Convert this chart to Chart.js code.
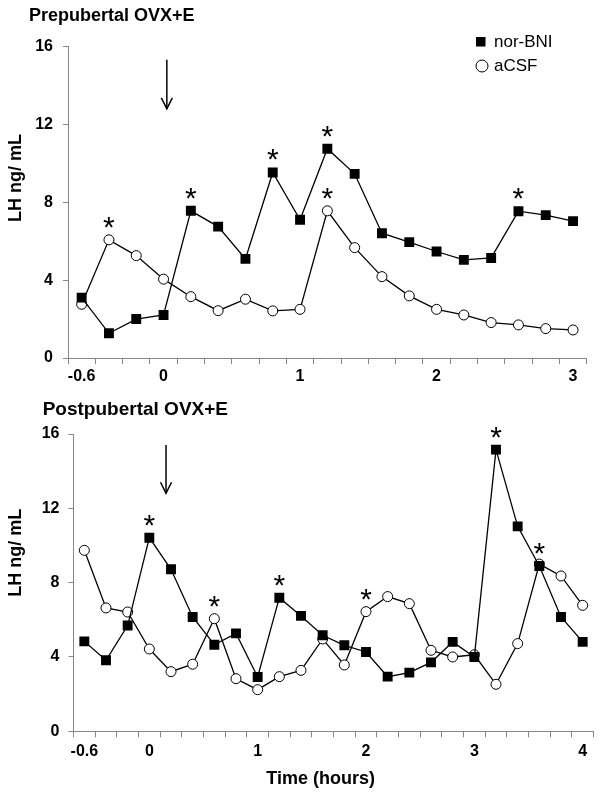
<!DOCTYPE html>
<html><head><meta charset="utf-8">
<script src="https://cdn.jsdelivr.net/npm/chart.js@4.4.0/dist/chart.umd.min.js"></script>
<style>
html,body{margin:0;padding:0;background:#fff;width:602px;height:798px;overflow:hidden}
canvas{position:absolute;left:0}
#c1{top:0}
#c2{top:390px}
</style></head><body>
<canvas id="c1" width="602" height="390"></canvas>
<canvas id="c2" width="602" height="408"></canvas>
<script>
// ---- data ----
const topTimes = [-0.6, -0.4, -0.2, 0, 0.2, 0.4, 0.6, 0.8, 1.0, 1.2, 1.4, 1.6, 1.8, 2.0, 2.2, 2.4, 2.6, 2.8, 3.0];
const topNorBNI = [3.1, 1.27, 2.0, 2.21, 7.56, 6.75, 5.09, 9.53, 7.1, 10.75, 9.46, 6.41, 5.95, 5.47, 5.04, 5.14, 7.54, 7.34, 7.03];
const topACSF   = [2.76, 6.07, 5.26, 4.05, 3.15, 2.43, 3.02, 2.42, 2.5, 7.56, 5.67, 4.18, 3.19, 2.5, 2.21, 1.82, 1.70, 1.51, 1.44];
const topTickLabels = ['-0.6', '0', '1', '2', '3'];
const topStarsNorBNI = [4, 7, 9, 16];
const topStarsACSF = [1, 9];

const botTimes = [-0.6, -0.4, -0.2, 0, 0.2, 0.4, 0.6, 0.8, 1.0, 1.2, 1.4, 1.6, 1.8, 2.0, 2.2, 2.4, 2.6, 2.8, 3.0, 3.2, 3.4, 3.6, 3.8, 4.0];
const botNorBNI = [4.84, 3.82, 5.69, 10.42, 8.72, 6.15, 4.66, 5.27, 2.92, 7.19, 6.21, 5.17, 4.63, 4.27, 2.94, 3.16, 3.71, 4.81, 4.0, 15.16, 11.03, 8.9, 6.15, 4.81];
const botACSF   = [9.74, 6.64, 6.42, 4.43, 3.21, 3.61, 6.06, 2.83, 2.24, 2.94, 3.28, 4.97, 3.57, 6.44, 7.25, 6.87, 4.36, 4.0, 4.12, 2.53, 4.72, 9.0, 8.36, 6.78];
const botTickLabels = ['-0.6', '0', '1', '2', '3', '4'];
const botStarsNorBNI = [3, 9, 19, 21];
const botStarsACSF = [6, 13];

const yTicks = [0, 4, 8, 12, 16];
const seriesNames = ['nor-BNI', 'aCSF'];

// ---- drawing ----
const F = "'Liberation Sans', Arial, Helvetica, sans-serif";
const AX = '#868686';
const fmt = t => String(+(+t).toFixed(1));

const annot = {
  id: 'annot',
  afterDraw(chart, args, o) {
    const ctx = chart.ctx, xs = chart.scales.x, ys = chart.scales.y;
    ctx.save();
    ctx.fillStyle = '#000'; ctx.strokeStyle = '#000';
    // panel title
    ctx.font = `bold ${o.titleSize}px ${F}`;
    ctx.textAlign = 'left'; ctx.textBaseline = 'middle';
    ctx.fillText(o.title, o.titleX, o.titleY);
    // y axis title
    ctx.save();
    ctx.translate(o.yTitleX, o.yTitleY); ctx.rotate(-Math.PI / 2);
    ctx.textAlign = 'center'; ctx.textBaseline = 'middle';
    ctx.font = `bold 18px ${F}`;
    ctx.fillText('LH ng/ mL', 0, 0);
    ctx.restore();
    // x axis title
    if (o.xTitle) {
      ctx.font = `bold 18px ${F}`; ctx.textAlign = 'center'; ctx.textBaseline = 'middle';
      ctx.fillText(o.xTitle, o.xTitleX, o.xTitleY);
    }
    // significance stars
    ctx.font = `30px ${F}`; ctx.textAlign = 'center'; ctx.textBaseline = 'alphabetic';
    o.stars.forEach(([ds, list]) => {
      const meta = chart.getDatasetMeta(ds);
      list.forEach(i => { const p = meta.data[i]; ctx.fillText('*', p.x, p.y - 3); });
    });
    // arrow
    const p0 = xs.getPixelForValue(o.arrowIdx), p1 = xs.getPixelForValue(o.arrowIdx + 1);
    const ax = p0 + o.arrowFrac * (p1 - p0);
    const ya = ys.getPixelForValue(o.arrowFrom), yb = ys.getPixelForValue(o.arrowTo);
    ctx.lineWidth = 1.5;
    ctx.beginPath(); ctx.moveTo(ax, ya); ctx.lineTo(ax, yb); ctx.stroke();
    ctx.beginPath(); ctx.moveTo(ax - 5.5, yb - 11); ctx.lineTo(ax, yb); ctx.lineTo(ax + 5.5, yb - 11); ctx.stroke();
    // legend
    if (o.legend) {
      ctx.fillStyle = '#000';
      ctx.fillRect(476, 37, 9.5, 9.5);
      ctx.beginPath(); ctx.arc(482, 66, 6, 0, Math.PI * 2);
      ctx.fillStyle = '#fff'; ctx.fill(); ctx.lineWidth = 1; ctx.stroke();
      ctx.fillStyle = '#000';
      ctx.font = `17px ${F}`; ctx.textAlign = 'left'; ctx.textBaseline = 'middle';
      ctx.fillText(seriesNames[0], 494, 42);
      ctx.fillText(seriesNames[1], 494, 66);
    }
    ctx.restore();
  }
};

function makeChart(id, times, nor, csf, tickLabels, cfg) {
  return new Chart(document.getElementById(id), {
    type: 'line',
    data: {
      labels: times.map(fmt),
      datasets: [
        { label: seriesNames[0], data: nor, borderColor: '#000', borderWidth: 1.3,
          pointStyle: 'rect', pointRadius: 7, pointBackgroundColor: '#000', pointBorderColor: '#000',
          pointBorderWidth: 0, tension: 0 },
        { label: seriesNames[1], data: csf, borderColor: '#000', borderWidth: 1.3,
          pointStyle: 'circle', pointRadius: 5, pointBackgroundColor: '#fff', pointBorderColor: '#000',
          pointBorderWidth: 1, tension: 0 }
      ]
    },
    options: {
      responsive: false, animation: false, devicePixelRatio: 1,
      layout: { padding: { left: 0, top: cfg.top, right: cfg.right, bottom: 0 } },
      plugins: { legend: { display: false }, tooltip: { enabled: false }, annot: cfg.annot },
      scales: {
        x: {
          type: 'category', offset: true,
          grid: { offset: true, drawOnChartArea: false, drawTicks: true, tickLength: 6, color: AX, lineWidth: 1 },
          border: { display: true, color: AX, width: 1 },
          ticks: {
            autoSkip: false, maxRotation: 0, padding: cfg.xPad, color: '#000',
            font: { family: F, size: 16, weight: 'bold' },
            callback: function (v, i) { const l = this.getLabelForValue(v); return tickLabels.includes(l) ? l : ''; }
          },
          afterFit: s => { s.height = cfg.xH; }
        },
        y: {
          min: 0, max: 16,
          afterBuildTicks: s => { s.ticks = yTicks.map(v => ({ value: v })); },
          grid: { drawOnChartArea: false, drawTicks: true, tickLength: 5, color: AX },
          border: { display: true, color: AX, width: 1 },
          ticks: { padding: cfg.yPad, color: '#000', font: { family: F, size: 16, weight: 'bold' } },
          afterFit: s => { s.width = cfg.yW; }
        }
      }
    },
    plugins: [annot]
  });
}

makeChart('c1', topTimes, topNorBNI, topACSF, topTickLabels, {
  top: 46.5, right: 15.3, xH: 32, yW: 68, xPad: 3, yPad: 10,
  annot: {
    title: 'Prepubertal OVX+E', titleSize: 18, titleX: 29, titleY: 16,
    yTitleX: 16, yTitleY: 178,
    stars: [[0, topStarsNorBNI], [1, topStarsACSF]],
    arrowIdx: 3, arrowFrac: 0.12, arrowFrom: 15.32, arrowTo: 12.8,
    legend: true
  }
});

makeChart('c2', botTimes, botNorBNI, botACSF, botTickLabels, {
  top: 44, right: 8.5, xH: 66.7, yW: 73.5, xPad: 5, yPad: 9,
  annot: {
    title: 'Postpubertal OVX+E', titleSize: 19, titleX: 42.7, titleY: 19.3,
    yTitleX: 16, yTitleY: 162.7,
    xTitle: 'Time (hours)', xTitleX: 320.7, xTitleY: 389.3,
    stars: [[0, botStarsNorBNI], [1, botStarsACSF]],
    arrowIdx: 3, arrowFrac: 0.77, arrowFrom: 15.41, arrowTo: 12.81,
    legend: false
  }
});
</script>
</body></html>
